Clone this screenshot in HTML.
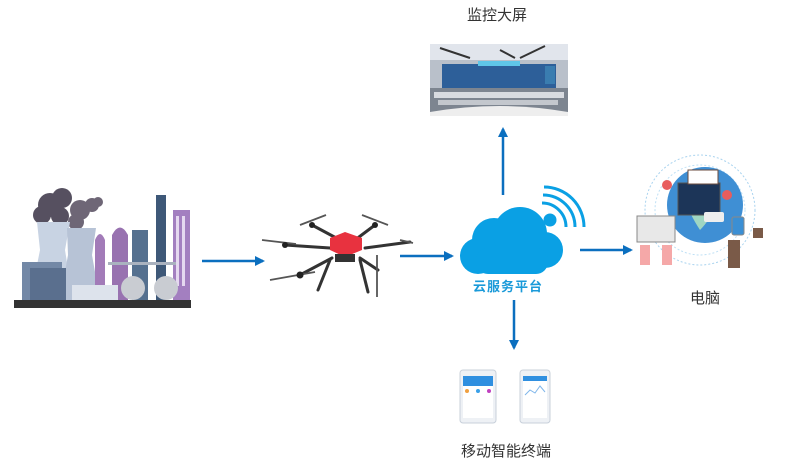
<!DOCTYPE html>
<html><head><meta charset="utf-8"><style>
html,body{margin:0;padding:0;background:#fff;}
svg{display:block;}
text{font-family:"Liberation Sans","Noto Sans CJK SC",sans-serif;}
</style></head><body>
<svg width="800" height="470" viewBox="0 0 800 470" xmlns="http://www.w3.org/2000/svg">
<defs>
<marker id="ah" markerWidth="10" markerHeight="10" refX="8" refY="5" orient="auto" markerUnits="userSpaceOnUse">
<path d="M0,0 L10,5 L0,10 Z" fill="#0b6fbf"/></marker>
</defs>
<text x="497" y="20" font-size="15" fill="#333" text-anchor="middle">监控大屏</text>
<text x="705" y="303" font-size="15" fill="#333" text-anchor="middle">电脑</text>
<text x="506" y="456" font-size="15" fill="#333" text-anchor="middle">移动智能终端</text>

<!-- control room -->
<rect x="430" y="44" width="138" height="72" fill="#b9c0ca"/>
<rect x="430" y="44" width="138" height="16" fill="#e1e5ec"/>
<path d="M440,48 L470,58 M520,58 L545,46 M500,50 L515,58" stroke="#333" stroke-width="2"/>
<rect x="442" y="64" width="114" height="24" fill="#2d5f99"/>
<rect x="478" y="61" width="42" height="5" fill="#5fc6e8"/>
<rect x="545" y="66" width="10" height="18" fill="#3a7db0"/>
<rect x="430" y="88" width="138" height="28" fill="#7d8590"/>
<rect x="434" y="92" width="130" height="6" fill="#d8dbe0"/>
<rect x="438" y="100" width="120" height="5" fill="#c3c7cd"/>
<path d="M430,112 Q500,100 568,112 L568,116 L430,116Z" fill="#eeeeee"/>

<!-- factory -->
<g>
<rect x="14" y="300" width="177" height="8" fill="#333"/>
<circle cx="50" cy="205" r="12" fill="#565060"/><circle cx="62" cy="198" r="10" fill="#565060"/><circle cx="42" cy="215" r="9" fill="#565060"/><circle cx="60" cy="216" r="9" fill="#565060"/>
<circle cx="80" cy="210" r="10" fill="#6e6676"/><circle cx="92" cy="205" r="7" fill="#6e6676"/><circle cx="76" cy="222" r="8" fill="#6e6676"/><circle cx="98" cy="202" r="5" fill="#6e6676"/>
<path d="M37,222 L70,222 L65,250 L73,300 L30,300 L40,250Z" fill="#c8d3e3"/>
<path d="M67,228 L96,228 L92,255 L100,300 L60,300 L68,255Z" fill="#b7c3d6"/>
<path d="M95,300 L95,240 Q100,228 105,240 L105,300Z" fill="#a27bb8"/>
<path d="M112,300 L112,235 Q120,220 128,235 L128,300Z" fill="#9872b0"/>
<rect x="132" y="230" width="16" height="70" fill="#55708f"/>
<rect x="156" y="195" width="10" height="105" fill="#3e5878"/>
<rect x="173" y="210" width="17" height="90" fill="#a37fc0"/>
<g fill="#e5d8f0"><rect x="176" y="216" width="3" height="70"/><rect x="182" y="216" width="3" height="70"/></g>
<rect x="22" y="262" width="40" height="38" fill="#7388a6"/>
<rect x="30" y="268" width="36" height="32" fill="#5a6f8e"/>
<rect x="72" y="285" width="46" height="15" fill="#dde3ec"/>
<circle cx="133" cy="288" r="12" fill="#c9ccd2"/><circle cx="166" cy="288" r="12" fill="#c9ccd2"/>
<rect x="108" y="262" width="68" height="3" fill="#aab2bf"/>
</g>

<!-- drone -->
<g stroke="#333" stroke-width="3" fill="none" stroke-linecap="round">
<line x1="312" y1="225" x2="340" y2="240"/><line x1="375" y1="225" x2="355" y2="240"/>
<line x1="285" y1="245" x2="330" y2="248"/><line x1="410" y1="242" x2="365" y2="248"/>
<line x1="300" y1="275" x2="332" y2="258"/><line x1="378" y1="270" x2="360" y2="258"/>
<line x1="330" y1="260" x2="318" y2="290"/><line x1="360" y1="260" x2="368" y2="292"/>
</g>
<g stroke="#555" stroke-width="1.8">
<line x1="300" y1="225" x2="326" y2="215"/><line x1="362" y1="215" x2="388" y2="225"/>
<line x1="262" y1="240" x2="296" y2="244"/><line x1="400" y1="240" x2="413" y2="243"/>
<line x1="270" y1="280" x2="315" y2="272"/><line x1="377" y1="255" x2="377" y2="297"/>
</g>
<g fill="#222"><circle cx="312" cy="225" r="3"/><circle cx="375" cy="225" r="3"/><circle cx="285" cy="245" r="3"/><circle cx="300" cy="275" r="3.5"/></g>
<path d="M330,238 L345,232 L362,238 L362,250 L345,257 L330,250Z" fill="#e8323f"/>
<rect x="335" y="254" width="20" height="8" fill="#333"/>

<!-- cloud -->
<g fill="#0aa0e4">
<circle cx="494" cy="240" r="22"/><circle cx="520" cy="234" r="27"/><circle cx="545" cy="250" r="18"/><circle cx="478" cy="256" r="18"/>
<rect x="476" y="248" width="72" height="26" rx="12"/>
<circle cx="550" cy="220" r="6.5"/>
</g>
<g fill="none" stroke="#0aa0e4" stroke-width="3">
<path d="M542,203 A24,24 0 0 1 566,227"/>
<path d="M543,195 A32,32 0 0 1 575,227"/>
<path d="M544,187 A40,40 0 0 1 584,227"/>
</g>
<text x="508" y="291" font-size="13" font-weight="bold" fill="#1a9ad9" text-anchor="middle" letter-spacing="1">云服务平台</text>

<!-- computer illustration -->
<circle cx="700" cy="210" r="55" fill="none" stroke="#a9d3ef" stroke-dasharray="2,2"/>
<circle cx="700" cy="210" r="45" fill="none" stroke="#bfe0f5" stroke-dasharray="2,2"/>
<circle cx="705" cy="205" r="38" fill="#3f8fd4"/>
<path d="M680,190 Q700,180 720,200 Q710,220 700,230 Q690,215 680,190Z" fill="#9fd6c2"/>
<rect x="678" y="183" width="42" height="32" fill="#1c3558" stroke="#555" stroke-width="1"/>
<rect x="688" y="170" width="30" height="14" fill="#fff" stroke="#6b4b3e"/>
<circle cx="667" cy="185" r="5" fill="#e85d5d"/><circle cx="727" cy="195" r="5" fill="#e85d5d"/>
<rect x="637" y="216" width="38" height="26" fill="#e8e8e8" stroke="#888"/>
<rect x="640" y="245" width="10" height="20" fill="#f5a8a8"/><rect x="662" y="245" width="10" height="20" fill="#f5a8a8"/>
<rect x="732" y="217" width="12" height="18" rx="2" fill="#3b8fd4" stroke="#888"/>
<rect x="728" y="240" width="12" height="28" fill="#7a5a48"/>
<rect x="753" y="228" width="10" height="10" fill="#7a5a48"/>
<rect x="704" y="212" width="20" height="10" rx="2" fill="#eee"/>

<!-- tablets -->
<rect x="460" y="370" width="36" height="53" rx="3" fill="#eef1f5" stroke="#c8d0da"/>
<rect x="463" y="376" width="30" height="42" fill="#fff"/>
<rect x="463" y="376" width="30" height="10" fill="#2f8fe0"/>
<g fill="#f0a040"><circle cx="467" cy="391" r="2"/></g><circle cx="478" cy="391" r="2" fill="#3aa0e8"/><circle cx="489" cy="391" r="2" fill="#c040c0"/>
<rect x="520" y="370" width="30" height="53" rx="3" fill="#eef1f5" stroke="#c8d0da"/>
<rect x="523" y="376" width="24" height="42" fill="#fff"/>
<rect x="523" y="376" width="24" height="5" fill="#2f8fe0"/>
<path d="M525,395 L530,390 L535,393 L540,386 L545,392" stroke="#7fb6ea" fill="none"/>

<!-- arrows -->
<g stroke="#0b6fbf" stroke-width="2.5" fill="none">
<line x1="202" y1="261" x2="263" y2="261" marker-end="url(#ah)"/>
<line x1="400" y1="256" x2="452" y2="256" marker-end="url(#ah)"/>
<line x1="580" y1="250" x2="631" y2="250" marker-end="url(#ah)"/>
<line x1="503" y1="195" x2="503" y2="129" marker-end="url(#ah)"/>
<line x1="514" y1="300" x2="514" y2="348" marker-end="url(#ah)"/>
</g>
</svg>
</body></html>
